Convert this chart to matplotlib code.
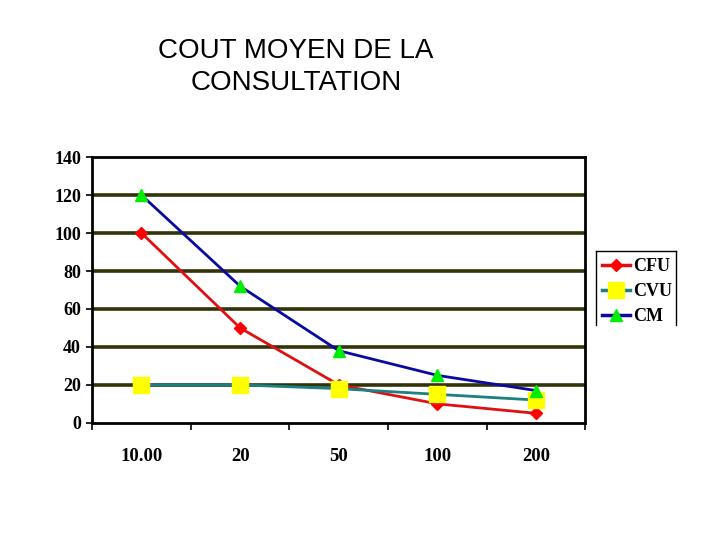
import numpy as np
import matplotlib.pyplot as plt
from matplotlib.lines import Line2D

# categories and series
categories = ['10.00', '20', '50', '100', '200']
cfu = [100, 50, 20, 10, 5]
cvu = [20, 20, 18, 15, 12]
cm = [120, 72, 38, 25, 17]

serif = 'Liberation Serif'

fig = plt.figure(figsize=(7.2, 5.4), dpi=100)
ax = fig.add_axes([0.128, 0.217, 0.685, 0.492])

x = np.arange(len(categories))
ax.plot(x, cfu, color='#e01010', lw=2, marker='D', ms=6,
        mfc='#ff0000', mec='#ff0000', label='CFU', zorder=3)
ax.plot(x, cvu, color='#1a8080', lw=2, marker='s', ms=11,
        mfc='#ffff00', mec='#ffff00', label='CVU', zorder=3)
ax.plot(x, cm, color='#0a0aa0', lw=2, marker='^', ms=9,
        mfc='#00ee00', mec='#00ee00', label='CM', zorder=3)

ax.set_xlim(-0.5, len(categories) - 0.5)
ax.set_ylim(0, 140)
ax.set_yticks(range(0, 141, 20))
ax.set_xticks(x)
ax.set_xticklabels(categories)
ax.set_xticks(np.arange(-0.5, len(categories), 1), minor=True)
ax.tick_params(axis='x', which='major', length=0, pad=18)
ax.tick_params(axis='x', which='minor', length=5, width=1.2, direction='out')
ax.tick_params(axis='y', length=4, width=1.2, direction='out', pad=4)
for lab in ax.get_xticklabels():
    lab.set_fontfamily(serif)
    lab.set_fontweight('bold')
    lab.set_fontsize(13.5)
for lab in ax.get_yticklabels():
    lab.set_fontfamily(serif)
    lab.set_fontweight('bold')
    lab.set_fontsize(13)

for v in range(20, 140, 20):
    ax.axhline(v, color='#333308', lw=2.6, zorder=1)
for s in ax.spines.values():
    s.set_linewidth(2)
    s.set_color('black')

fig.text(0.411, 0.876, 'COUT MOYEN DE LA\nCONSULTATION', ha='center',
         va='center', fontsize=20, family='Liberation Sans',
         linespacing=1.28)

leg = fig.legend(loc='upper left', bbox_to_anchor=(0.829, 0.532),
                 prop={'family': serif, 'weight': 'bold', 'size': 13},
                 frameon=False, borderpad=0.3, labelspacing=0.45,
                 handlelength=1.55, handletextpad=0.15, borderaxespad=0)
for h in leg.legend_handles:
    h.set_linewidth(2.5)

# legend box with its bottom edge cut off, as in the original
bx0, bx1 = 596 / 720, 676 / 720
by0, by1 = 1 - 325 / 540, 1 - 251 / 540
for xs, ys in [([bx0, bx0], [by0, by1]), ([bx0, bx1], [by1, by1]),
               ([bx1, bx1], [by1, by0])]:
    fig.add_artist(Line2D(xs, ys, color='black', lw=1,
                          transform=fig.transFigure))

fig.savefig('out.png', dpi=100)
